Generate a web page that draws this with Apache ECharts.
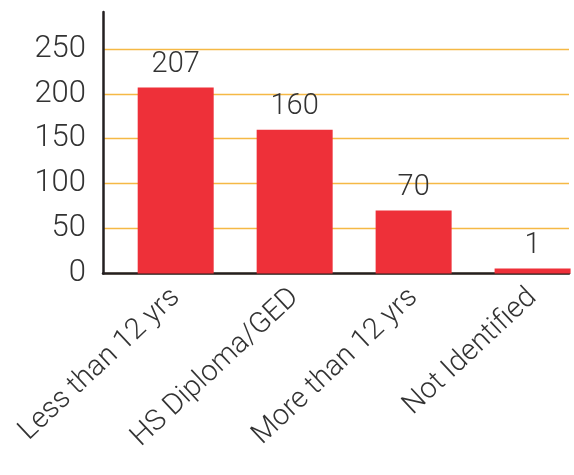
<!DOCTYPE html>
<html>
<head>
<meta charset="utf-8">
<script src="https://cdn.jsdelivr.net/npm/echarts@6/dist/echarts.min.js"></script>
<style>
  html, body { margin: 0; padding: 0; background: #fff; }
  #chart { width: 574px; height: 475px; }
</style>
</head>
<body>
<div id="chart"></div>
<script>
const categories = ['Less than 12 yrs', 'HS Diploma/GED', 'More than 12 yrs', 'Not Identified']
const counts = [207, 160, 70, 1]
const yTicks = [0, 50, 100, 150, 200, 250]

const font = 'Roboto, "Liberation Sans", sans-serif'
const textColor = '#333'

const chart = echarts.init(document.getElementById('chart'))

chart.setOption({
  animation: false,
  grid: { left: 103, right: 5, top: 12, bottom: 201.5 },
  xAxis: {
    type: 'value',
    min: -0.611,
    max: 3.306,
    axisLine: { show: true, onZero: false, lineStyle: { color: '#231f20', width: 2.5 } },
    axisTick: { show: false, customValues: [0, 1, 2, 3] },
    splitLine: { show: false },
    axisLabel: {
      customValues: [0, 1, 2, 3],
      rotate: 43,
      margin: 20,
      fontSize: 29,
      fontFamily: font,
      fontWeight: 300,
      color: textColor,
      formatter: function (v) { return categories[Math.round(v)] }
    }
  },
  yAxis: {
    type: 'value',
    min: 0,
    max: 291,
    axisLine: { show: true, onZero: false, lineStyle: { color: '#231f20', width: 2.5 } },
    axisTick: { show: false, customValues: yTicks },
    splitLine: { show: true, lineStyle: { color: '#f5b945', width: 1.3 } },
    axisLabel: {
      customValues: yTicks,
      margin: 17,
      fontSize: 31,
      fontFamily: font,
      fontWeight: 300,
      color: textColor
    }
  },
  series: [
    {
      type: 'bar',
      barWidth: 76,
      barMinHeight: 5,
      data: counts.map(function (v, i) { return [i, v] }),
      itemStyle: { color: '#ee3039' },
      label: {
        show: true,
        position: 'top',
        distance: 8,
        fontSize: 29,
        fontFamily: font,
        fontWeight: 300,
        color: textColor,
        formatter: function (p) { return p.value[1] }
      }
    }
  ]
})
</script>
</body>
</html>
